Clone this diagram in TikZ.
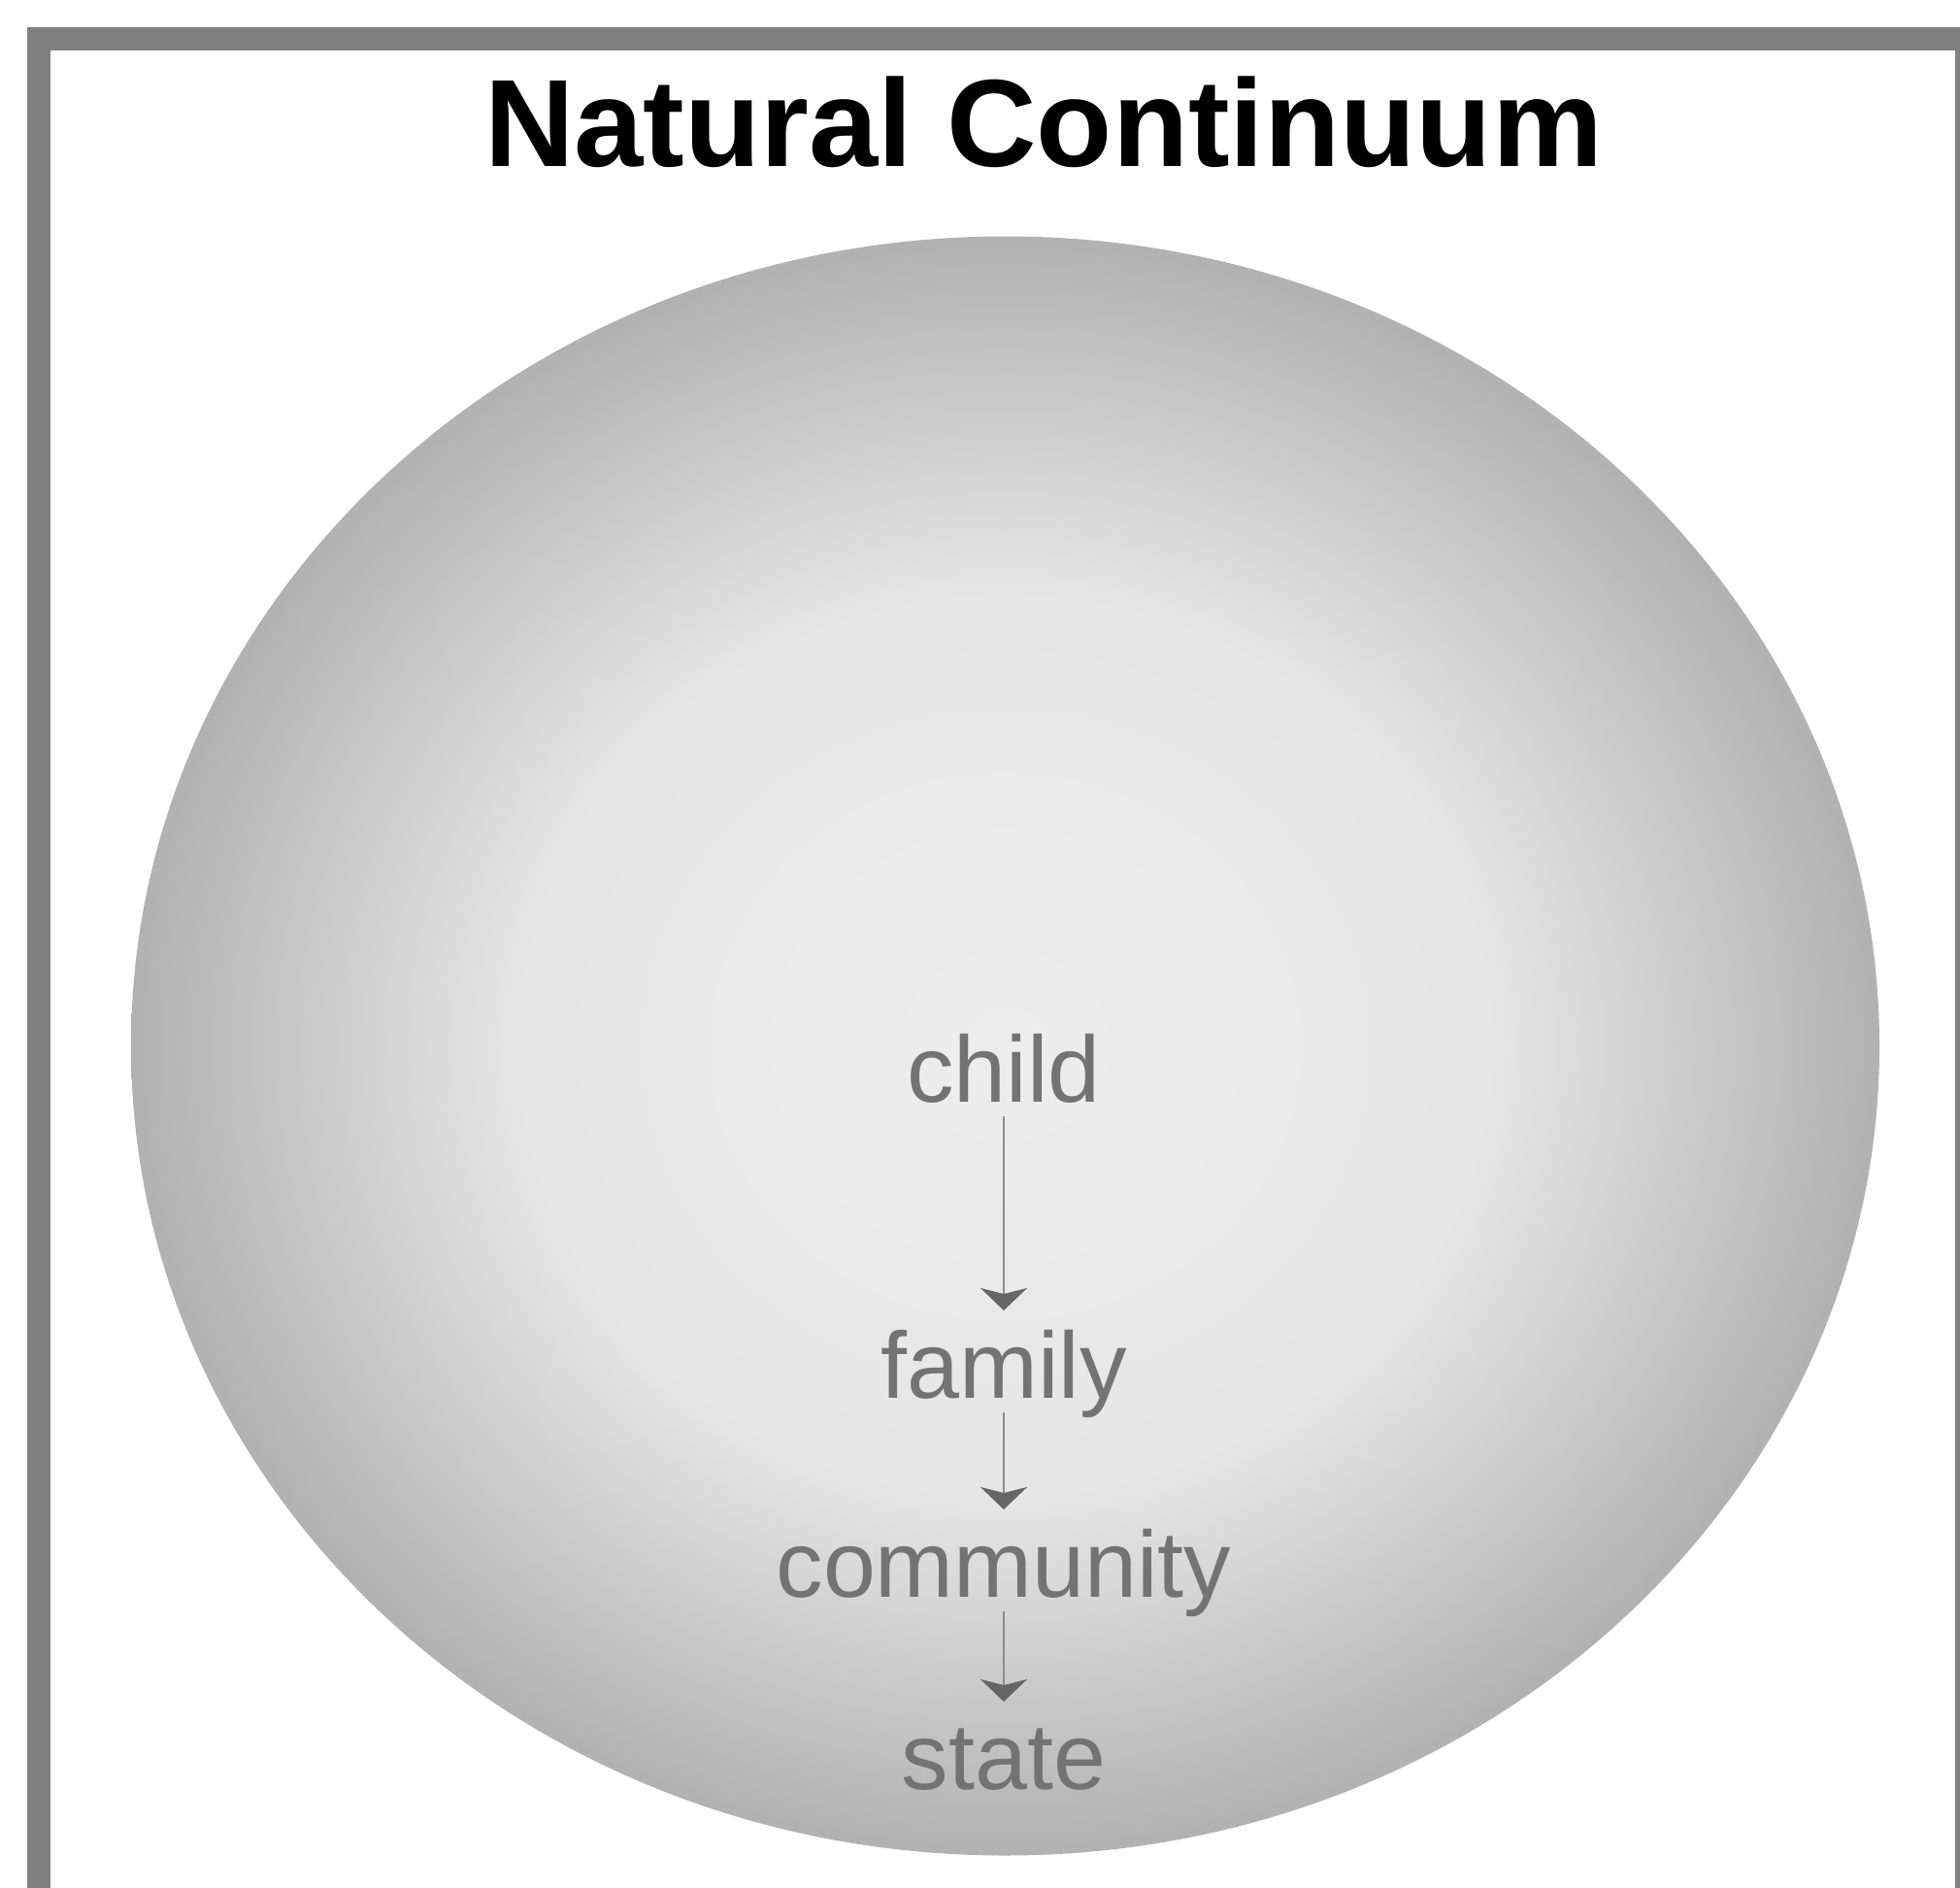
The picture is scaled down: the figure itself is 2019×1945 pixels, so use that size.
\documentclass[tikz,border=0pt]{standalone}
\usepackage{fontspec}
\setmainfont{Liberation Sans}
\usetikzlibrary{arrows.meta}
\pgfdeclareradialshading{discshade}{\pgfpoint{0bp}{0bp}}{color(0bp)=(black!7); color(14bp)=(black!10); color(28bp)=(black!36); color(50bp)=(black!40)}
\begin{document}
\begin{tikzpicture}[x=1pt,y=-1pt,
  titlestyle/.style={font=\bfseries\fontsize{128}{140}\selectfont, text=black, anchor=base, inner sep=0pt},
  stage/.style={font=\fontsize{97}{110}\selectfont, text=black!55, anchor=base, inner sep=0pt, outer sep=0pt, text height=90pt, text depth=15pt},
  link/.style={draw=black!45, line width=2pt, -{Stealth[length=23pt,width=48pt,inset=6pt,color=black!60]}}
]
\useasboundingbox (0,0) rectangle (2019,1945);
\clip (0,0) rectangle (2019,1945);
\fill[white] (0,0) rectangle (2019,1945);
\draw[line width=24pt, draw=black!50] (39.5,40) rectangle (2026,2000);
\shade[shading=discshade] (1035.5,1077.5) ellipse [x radius=900.5, y radius=834];
\node[titlestyle] (title) at (1075,172) {Natural Continuum};
\node[stage] (child) at (1034,1135) {child};
\node[stage] (family) at (1034,1440) {family};
\node[stage] (community) at (1034,1645) {community};
\node[stage] (state) at (1034,1843) {state};
\draw[link] (child.south) -- (family.north);
\draw[link] (family.south) -- (community.north);
\draw[link] (community.south) -- (state.north);
\end{tikzpicture}
\end{document}
